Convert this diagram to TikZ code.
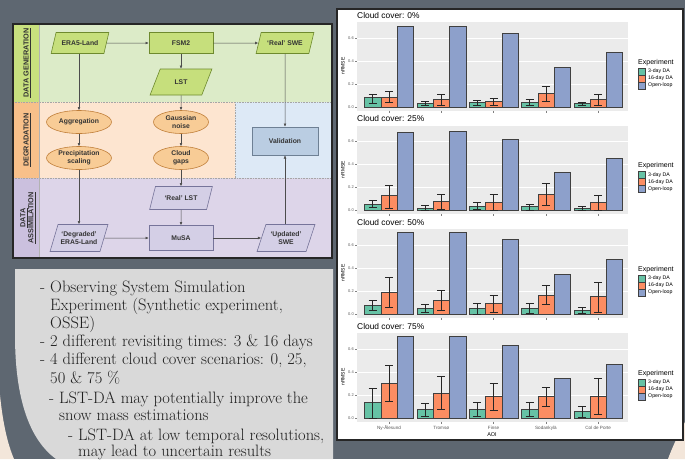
\documentclass[tikz,border=0pt]{standalone}
\usepackage{fontspec}
\newfontfamily\chartfont{Liberation Sans}
\usetikzlibrary{shapes.geometric, arrows.meta, positioning}

\definecolor{slate}{HTML}{5E6771}
\definecolor{sand}{HTML}{F3E6DA}
\definecolor{panelgray}{HTML}{D9D9D9}
\definecolor{genlight}{HTML}{DCEBC8}
\definecolor{genstrip}{HTML}{C8E07E}
\definecolor{deglight}{HTML}{FDE5D0}
\definecolor{degstrip}{HTML}{F8C08A}
\definecolor{vallight}{HTML}{DDE9F6}
\definecolor{asslight}{HTML}{DDD5E9}
\definecolor{assstrip}{HTML}{CBC0DE}
\definecolor{nodegreen}{HTML}{C6DF7C}
\definecolor{edgegreen}{HTML}{6E8A2E}
\definecolor{nodeorange}{HTML}{F8CC96}
\definecolor{edgeorange}{HTML}{C07F3A}
\definecolor{nodepurple}{HTML}{D4CFE6}
\definecolor{edgepurple}{HTML}{76749A}
\definecolor{nodeblue}{HTML}{BACDE2}
\definecolor{edgeblue}{HTML}{6E8094}
\definecolor{da3}{HTML}{66C2A5}
\definecolor{da16}{HTML}{FC8D62}
\definecolor{openloop}{HTML}{8DA0CB}
\definecolor{plotbg}{HTML}{EBEBEB}

\tikzset{
  flowtxt/.style={font=\chartfont\bfseries\fontsize{6.8}{7.6}\selectfont, text=black!80, align=center, line width=0.6pt},
  genio/.style={flowtxt, trapezium, trapezium left angle=65, trapezium right angle=115, trapezium stretches=true, inner sep=2pt, draw=edgegreen, fill=nodegreen},
  genproc/.style={flowtxt, rectangle, draw=edgegreen, fill=nodegreen},
  degstep/.style={flowtxt, ellipse, inner sep=0pt, draw=edgeorange, fill=nodeorange, minimum height=23pt},
  assio/.style={flowtxt, trapezium, trapezium left angle=65, trapezium right angle=115, trapezium stretches=true, inner sep=2pt, draw=edgepurple, fill=nodepurple},
  assproc/.style={flowtxt, rectangle, draw=edgepurple, fill=nodepurple},
  valproc/.style={flowtxt, rectangle, draw=edgeblue, fill=nodeblue},
  flowarrow/.style={-{Latex[length=3.2pt,width=2.8pt]}, draw=black!70, line width=0.5pt},
  striplabel/.style={font=\chartfont\bfseries\fontsize{7.3}{8}\selectfont, text=black!80, align=center, rotate=90, inner sep=0pt},
  bullettxt/.style={font=\fontsize{16.5}{19}\selectfont, text=black!88, anchor=base west, inner sep=0pt},
  plottitle/.style={font=\chartfont\fontsize{8.4}{9}\selectfont, anchor=base west, inner sep=0pt},
  ticklbl/.style={font=\chartfont\fontsize{4}{4.5}\selectfont, text=black!65, inner sep=0pt},
  keylbl/.style={font=\chartfont\fontsize{5.2}{6}\selectfont, anchor=west, inner sep=0pt},
  barline/.style={draw=black!75, line width=0.4pt},
  errbar/.style={draw=black!85, line width=0.5pt}
}

% one facet of the bar chart: #1 zero line, #2 cloud cover, #3 bar values
\newcommand{\cloudpanel}[3]{%
  \fill[plotbg] (357,{#1-85}) rectangle (628,{#1+3.5});
  \foreach \v in {0.2,0.4,0.6} {\draw[white, line width=0.5pt] (357,{#1-\v*115}) -- (628,{#1-\v*115});}
  \foreach \v in {0.0,0.2,0.4,0.6} {
    \node[ticklbl, anchor=east] at (354,{#1-\v*115}) {\v};
    \draw[black!50, line width=0.3pt] (355,{#1-\v*115}) -- (357,{#1-\v*115});
  }
  \node[plottitle] at (357,{#1-89}) {Cloud cover: #2\%};
  \node[font=\chartfont\fontsize{5}{6}\selectfont, rotate=90, inner sep=0pt] at (343,{#1-41}) {nRMSE};
  \foreach \gv/\gl/\gh/\ov/\ol/\oh/\bv [count=\i from 0] in {#3} {
    \pgfmathsetmacro{\cx}{389+52.3*\i}
    \filldraw[barline, fill=da3] ({\cx-24.45},#1) rectangle ({\cx-8.15},{#1-\gv*115});
    \filldraw[barline, fill=da16] ({\cx-8.15},#1) rectangle ({\cx+8.15},{#1-\ov*115});
    \filldraw[barline, fill=openloop] ({\cx+8.15},#1) rectangle ({\cx+24.45},{#1-\bv*115});
    \draw[errbar] ({\cx-16.3},{#1-\gl*115}) -- ({\cx-16.3},{#1-\gh*115})
      ({\cx-20.3},{#1-\gl*115}) -- ++(8,0) ({\cx-20.3},{#1-\gh*115}) -- ++(8,0);
    \draw[errbar] (\cx,{#1-\ol*115}) -- (\cx,{#1-\oh*115})
      ({\cx-4},{#1-\ol*115}) -- ++(8,0) ({\cx-4},{#1-\oh*115}) -- ++(8,0);
    \draw[black!50, line width=0.3pt] (\cx,{#1+3.5}) -- (\cx,{#1+5.5});
  }
  % legend
  \node[font=\chartfont\fontsize{7}{8}\selectfont, anchor=base west, inner sep=0pt] at (638,{#1-43}) {Experiment};
  \filldraw[barline, fill=da3] (638,{#1-39}) rectangle (645,{#1-32});
  \filldraw[barline, fill=da16] (638,{#1-32}) rectangle (645,{#1-25});
  \filldraw[barline, fill=openloop] (638,{#1-25}) rectangle (645,{#1-18});
  \node[keylbl] at (648,{#1-35.5}) {3-day DA};
  \node[keylbl] at (648,{#1-28.5}) {16-day DA};
  \node[keylbl] at (648,{#1-21.5}) {Open-loop};
}

\begin{document}
\begin{tikzpicture}[x=1pt, y=-1pt]
  \useasboundingbox (0,0) rectangle (685,459);
  \fill[slate] (0,0) rectangle (685,459);

  % corner decorations
  \fill[sand] (0,395) .. controls (3,425) and (8,445) .. (14,459) -- (0,459) -- cycle;
  \fill[sand] (685,422) .. controls (678,435) and (672,448) .. (668,459) -- (685,459) -- cycle;

  % flowchart background bands
  \fill[genlight] (39,24) rectangle (332,102);
  \fill[genstrip] (13,24) rectangle (39,102);
  \fill[deglight] (39,102) rectangle (235,178);
  \fill[vallight] (235,102) rectangle (332,178);
  \fill[degstrip] (13,102) rectangle (39,178);
  \fill[asslight] (39,178) rectangle (332,258);
  \fill[assstrip] (13,178) rectangle (39,258);
  \draw[black!35, densely dotted, line width=0.6pt] (13,102) -- (332,102) (13,178) -- (332,178) (235,102) -- (235,178);
  \draw[black!30, line width=0.5pt] (39,24) -- (39,258);
  \draw[black!85, line width=1.2pt] (13,24) rectangle (332,258);

  % band labels
  \node[striplabel] (genlabel) at (27,63) {\underline{DATA GENERATION}};
  \node[striplabel] (deglabel) at (27,140) {\underline{DEGRADATION}};
  \node[striplabel] (asslabel) at (28,218) {\underline{DATA}\\\underline{ASSIMILATION}};

  % data generation
  \node[genio, minimum width=58pt, minimum height=21pt] (era5) at (80,43) {ERA5-Land};
  \node[genproc, minimum width=64pt, minimum height=21pt] (fsm2) at (181,43) {FSM2};
  \node[genio, minimum width=58pt, minimum height=21pt] (realswe) at (285,43) {‘Real’ SWE};
  \node[genio, minimum width=62pt, minimum height=26pt] (lst) at (181,82) {LST};

  % degradation
  \node[degstep, minimum width=65pt] (aggr) at (79,122) {Aggregation};
  \node[degstep, minimum width=55pt] (gauss) at (181,122) {Gaussian\\noise};
  \node[degstep, minimum width=65pt] (precip) at (79,158) {Precipitation\\scaling};
  \node[degstep, minimum width=55pt] (cloud) at (181,158) {Cloud\\gaps};
  \node[valproc, minimum width=66pt, minimum height=28pt] (valid) at (285,141) {Validation};

  % data assimilation
  \node[assio, minimum width=63pt, minimum height=23pt] (reallst) at (181,198) {‘Real’ LST};
  \node[assio, minimum width=58pt, minimum height=27pt] (degraded) at (79,238) {‘Degraded’\\ERA5-Land};
  \node[assproc, minimum width=64pt, minimum height=25pt] (musa) at (181,238) {MuSA};
  \node[assio, minimum width=58pt, minimum height=27pt] (updated) at (286,238) {‘Updated’\\SWE};

  % connectors
  \draw[flowarrow] (era5) -- (fsm2);
  \draw[flowarrow] (fsm2) -- (realswe);
  \draw[flowarrow] (fsm2) -- (lst);
  \draw[flowarrow] (era5.south -| aggr) -- (aggr);
  \draw[flowarrow] (lst) -- (gauss);
  \draw[flowarrow] (realswe) -- (valid);
  \draw[flowarrow] (aggr) -- (precip);
  \draw[flowarrow] (gauss) -- (cloud);
  \draw[flowarrow] (precip) -- (degraded);
  \draw[flowarrow] (cloud) -- (reallst);
  \draw[flowarrow] (reallst) -- (musa);
  \draw[flowarrow] (degraded) -- (musa);
  \draw[flowarrow] (musa) -- (updated);
  \draw[flowarrow] (updated.north -| valid) -- (valid);

  % summary panel
  \fill[panelgray] (15,269) -- (333,269) -- (333,459) -- (56,459) .. controls (30,440) and (15,400) .. (15,335) -- cycle;
  \node[bullettxt] (t1) at (40,292) {- Observing System Simulation};
  \node[bullettxt] (t2) at (50,310) {Experiment (Synthetic experiment,};
  \node[bullettxt] (t3) at (50,328) {OSSE)};
  \node[bullettxt] (t4) at (40,346) {- 2 different revisiting times: 3 \& 16 days};
  \node[bullettxt] (t5) at (40,364) {- 4 different cloud cover scenarios: 0, 25,};
  \node[bullettxt] (t6) at (50,383) {50 \& 75 \%};
  \node[bullettxt] (t7) at (49,403) {- LST-DA may potentially improve the};
  \node[bullettxt] (t8) at (59,420) {snow mass estimations};
  \node[bullettxt] (t9) at (68,440) {- LST-DA at low temporal resolutions,};
  \node[bullettxt] (t10) at (78,456) {may lead to uncertain results};

  % results chart
  \filldraw[fill=white, draw=black!85, line width=1.2pt] (337,9) rectangle (683,440);
  \cloudpanel{107}{0}{.087/.029/.107/.087/.041/.136/.707, .035/.012/.049/.07/.012/.107/.707, .046/.012/.055/.049/.012/.075/.643, .04/.012/.064/.116/.049/.18/.348, .029/.012/.041/.07/.012/.107/.475}
  \cloudpanel{210.5}{25}{.057/.029/.091/.129/.023/.223/.68, .023/0/.049/.08/.014/.143/.686, .037/.009/.071/.071/0/.143/.623, .034/.006/.057/.143/.043/.234/.337, .017/0/.034/.071/0/.134/.457}
  \cloudpanel{314}{50}{.074/.03/.118/.19/.06/.318/.715, .053/.018/.082/.118/.03/.206/.715, .053/0/.097/.094/.018/.165/.647, .053/.009/.091/.165/.082/.253/.347, .035/.009/.059/.156/.018/.274/.476}
  \cloudpanel{418}{75}{.137/0/.257/.3/.143/.457/.715, .077/.014/.129/.214/.077/.363/.715, .077/.014/.134/.191/.071/.306/.629, .077/.014/.134/.186/.1/.271/.343, .057/.009/.1/.191/.037/.343/.466}

  % area labels
  \node[ticklbl, font=\chartfont\fontsize{4.6}{5}\selectfont] (aoi1) at (389,428) {Ny-Ålesund};
  \node[ticklbl, font=\chartfont\fontsize{4.6}{5}\selectfont] (aoi2) at (441.3,428) {Tromsø};
  \node[ticklbl, font=\chartfont\fontsize{4.6}{5}\selectfont] (aoi3) at (493.6,428) {Finse};
  \node[ticklbl, font=\chartfont\fontsize{4.6}{5}\selectfont] (aoi4) at (545.9,428) {Sodankylä};
  \node[ticklbl, font=\chartfont\fontsize{4.6}{5}\selectfont] (aoi5) at (598.2,428) {Col de Porte};
  \node[font=\chartfont\fontsize{5.5}{6}\selectfont, inner sep=0pt] (aoi) at (492,434.5) {AOI};
\end{tikzpicture}
\end{document}
